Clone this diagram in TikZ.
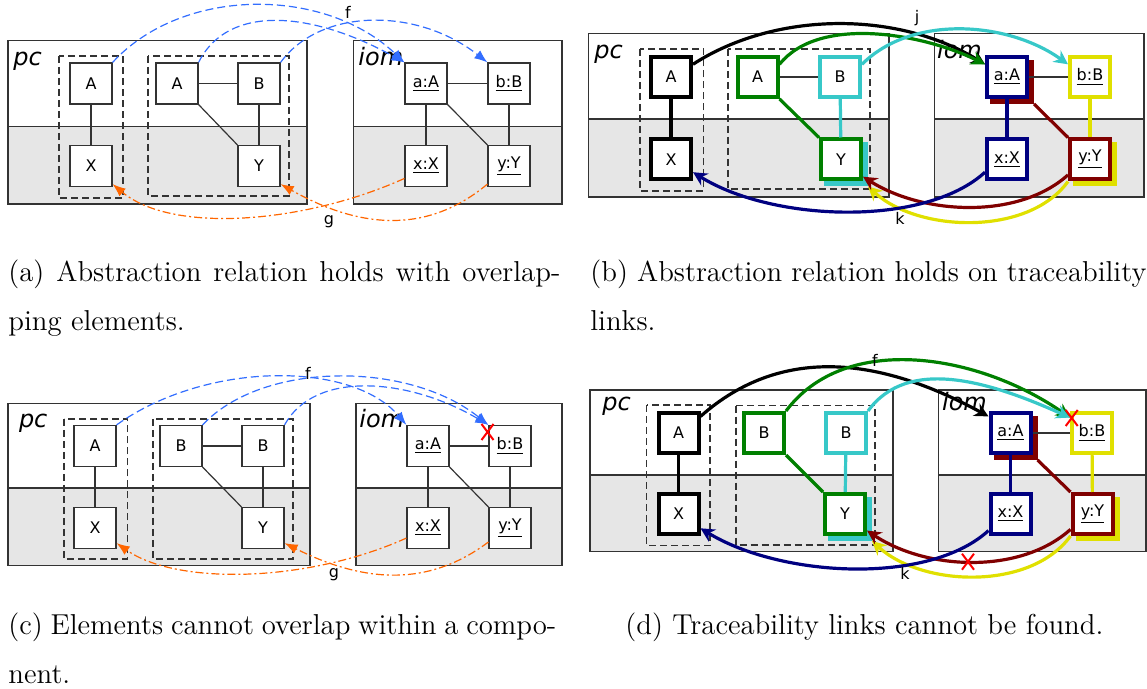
\documentclass[tikz,border=0pt]{standalone}
\usepackage{fontspec}
\newfontfamily\dejavu{DejaVu Sans}
\usepackage{tikz}
\usetikzlibrary{arrows.meta,shapes.misc}

\definecolor{fblue}{RGB}{51,110,255}
\definecolor{gorange}{RGB}{255,102,0}
\definecolor{tgreen}{RGB}{0,128,0}
\definecolor{tcyan}{RGB}{55,200,200}
\definecolor{tnavy}{RGB}{0,0,128}
\definecolor{tred}{RGB}{128,0,0}
\definecolor{tyellow}{RGB}{224,224,0}
\definecolor{layer}{RGB}{230,230,230}
\definecolor{frame}{RGB}{51,51,51}

\tikzset{
  elem/.style={draw=frame, fill=white, line width=0.6pt, minimum width=21pt, minimum height=20.5pt, inner sep=0pt, font=\dejavu\fontsize{8}{9}\selectfont},
  telem/.style={elem, draw=#1, line width=2pt, minimum width=20pt, minimum height=20pt},
  ghost/.style={draw=#1, fill=#1, line width=2pt, minimum width=20pt, minimum height=20pt, inner sep=0pt},
  group/.style={draw=frame, line width=0.6pt, dash pattern=on 3.5pt off 2pt},
  comp/.style={draw=frame, line width=0.6pt},
  compname/.style={font=\dejavu\itshape\fontsize{12}{14}\selectfont, inner sep=0pt, anchor=base west},
  assoc/.style={draw=frame, line width=0.6pt},
  link/.style={draw=#1, line width=1.6pt},
  fmap/.style={draw=fblue, line width=0.6pt, dash pattern=on 4pt off 2pt, -{Latex[length=6.5pt,width=5pt]}},
  gmap/.style={draw=gorange, line width=0.6pt, dash pattern=on 4pt off 1.5pt on 1pt off 1.5pt, -{Latex[length=6.5pt,width=5pt]}},
  trace/.style={draw=#1, line width=1.6pt, -{Stealth[length=7pt,width=7pt]}},
  maplabel/.style={font=\dejavu\fontsize{8}{9}\selectfont, inner sep=0pt},
  nomatch/.style={cross out, draw=red, line width=1pt, minimum width=5pt, minimum height=7pt, inner sep=0pt},
  subcap/.style={font=\fontsize{14.4}{17}\selectfont, inner sep=0pt, anchor=base west}
}

\newcommand{\compframe}[5]{%
  \fill[layer] (#1,#3) rectangle (#4,#5);
  \draw[comp] (#1,#2) rectangle (#4,#5);
  \draw[comp,line width=0.8pt] (#1,#3) -- (#4,#3);}

\begin{document}
\begin{tikzpicture}[x=0.5pt,y=-0.5pt]
\useasboundingbox (0,0) rectangle (1147,689);

% (a)
\compframe{8}{40.7}{126.7}{307}{204}
\compframe{353.6}{40.7}{126.7}{562}{204}
\draw (13,66) node[compname] (a-pc) {pc};
\draw (358,66) node[compname] (a-iom) {iom};
\draw[group] (59,56) rectangle (123,198);
\draw[group] (148,56) rectangle (289,196);
\draw (91,83.5) node[elem] (a-A1) {A};
\draw (91,166) node[elem] (a-X) {X};
\draw (177,83.5) node[elem] (a-A2) {A};
\draw (259,83.5) node[elem] (a-B) {B};
\draw (259,166) node[elem] (a-Y) {Y};
\draw (426,83.5) node[elem] (a-aA) {\underline{a:A}};
\draw (509,83.5) node[elem] (a-bB) {\underline{b:B}};
\draw (426,166) node[elem] (a-xX) {\underline{x:X}};
\draw (509,166) node[elem] (a-yY) {\underline{y:Y}};
\path[assoc] (a-A1) edge (a-X) (a-A2) edge (a-B) (a-B) edge (a-Y)
  (a-aA) edge (a-bB) (a-aA) edge (a-xX) (a-bB) edge (a-yY);
\draw[assoc] (a-A2.south east) -- (a-Y.north west);
\draw[assoc] (a-aA.south east) -- (a-yY.north west);
\draw[fmap] (a-A1.north east) .. controls +(70,-76) and +(-80,-76) .. (a-aA.north west);
\draw[fmap] (a-A2.north east) .. controls +(30,-60) and +(-90,-50) .. (a-aA.north west);
\draw[fmap] (a-B.north east) .. controls +(40,-55) and +(-70,-55) .. (a-bB.north west);
\draw[gmap] (a-xX.210) .. controls +(-100,45) and +(60,50) .. (a-X.-40);
\draw[gmap] (a-yY.220) .. controls +(-60,50) and +(80,45) .. (a-Y.-40);
\draw (348,12) node[maplabel] (a-f) {f};
\draw (329,222) node[maplabel] (a-g) {g};

% (b)
\compframe{588.5}{33.3}{119.3}{889}{197}
\compframe{934.5}{33.3}{119.3}{1144}{197}
\draw (594,58.3) node[compname] (b-pc) {pc};
\draw (936.7,58.3) node[compname] (b-iom) {iom};
\draw[group] (640,49) rectangle (703.5,191);
\draw[group] (728,49) rectangle (870,189);
\draw (846,164.5) node[ghost=tcyan] (b-Ys) {};
\draw (1012,82) node[ghost=tred] (b-aAs) {};
\draw (1095,164.5) node[ghost=tyellow] (b-yYs) {};
\draw (671,77) node[telem=black] (b-A1) {A};
\draw (671,159.5) node[telem=black] (b-X1) {X};
\draw (757.5,77) node[telem=tgreen] (b-A2) {A};
\draw (840,77) node[telem=tcyan] (b-B) {B};
\draw (841,159.5) node[telem=tgreen] (b-Y) {Y};
\draw (1007,77) node[telem=tnavy] (b-aA) {\underline{a:A}};
\draw (1090,77) node[telem=tyellow] (b-bB) {\underline{b:B}};
\draw (1007,159.5) node[telem=tnavy] (b-xX) {\underline{x:X}};
\draw (1090,159.5) node[telem=tred] (b-yY) {\underline{y:Y}};
\path[link=black] (b-A1) edge (b-X1);
\path[assoc] (b-A2) edge (b-B) (b-aA) edge (b-bB);
\draw[link=tgreen] (b-A2.south east) -- (b-Y.north west);
\path[link=tcyan] (b-B) edge (b-Y);
\path[link=tnavy] (b-aA) edge (b-xX);
\draw[link=tred] (b-aAs.south east) -- (b-yY.north west);
\path[link=tyellow] (b-bB) edge (b-yY);
\draw[trace=black] (b-A1.30) .. controls +(80,-52) and +(-90,-55) .. (b-aA.150);
\draw[trace=tgreen] (b-A2.30) .. controls +(40,-50) and +(-60,-30) .. (b-aA.150);
\draw[trace=tcyan] (b-B.30) .. controls +(50,-50) and +(-60,-43) .. (b-bB.150);
\draw[trace=tyellow] (b-yY.south west) .. controls +(-40,55) and +(50,46) .. (b-Ys.south east);
\draw[trace=tred] (b-yY.215) .. controls +(-50,45) and +(60,38) .. (b-Y.-38);
\draw[trace=tnavy] (b-xX.210) .. controls +(-60,55) and +(80,50) .. (b-X1.-30);
\draw (917,18) node[maplabel] (b-j) {j};
\draw (900,218) node[maplabel] (b-k) {k};

% (c)
\compframe{8}{403.3}{488.3}{310}{565.7}
\compframe{356}{403.3}{488.3}{562}{565.7}
\draw (18.6,428) node[compname] (c-pc) {pc};
\draw (359,428) node[compname] (c-iom) {iom};
\draw[group] (64,419) rectangle (127.5,559);
\draw[group] (153,419) rectangle (293,559);
\draw (95,446) node[elem] (c-A) {A};
\draw (95,528) node[elem] (c-X) {X};
\draw (181,446) node[elem] (c-B1) {B};
\draw (263,446) node[elem] (c-B2) {B};
\draw (263,528) node[elem] (c-Y) {Y};
\draw (428,446) node[elem] (c-aA) {\underline{a:A}};
\draw (510,446) node[elem] (c-bB) {\underline{b:B}};
\draw (428,528) node[elem] (c-xX) {\underline{x:X}};
\draw (510,528) node[elem] (c-yY) {\underline{y:Y}};
\path[assoc] (c-A) edge (c-X) (c-B1) edge (c-B2) (c-B2) edge (c-Y)
  (c-aA) edge (c-bB) (c-aA) edge (c-xX) (c-bB) edge (c-yY);
\draw[assoc] (c-B1.south east) -- (c-Y.north west);
\draw[assoc] (c-aA.south east) -- (c-yY.north west);
\draw[fmap] (c-A.north east) .. controls +(90,-64) and +(-55,-64) .. (c-aA.north west);
\draw[fmap] (c-B1.north east) .. controls +(60,-64) and +(-80,-64) .. (c-bB.north west);
\draw[fmap] (c-B2.north east) .. controls +(30,-55) and +(-80,-47) .. (c-bB.north west);
\draw[gmap] (c-xX.205) .. controls +(-100,45) and +(60,42) .. (c-X.-35);
\draw[gmap] (c-yY.213) .. controls +(-60,45) and +(80,40) .. (c-Y.-35);
\draw (487.5,432) node[nomatch] (c-no) {};
\draw (308,373) node[maplabel] (c-f) {f};
\draw (334,575) node[maplabel] (c-g) {g};

% (d)
\compframe{590}{390}{475}{893}{551.7}
\compframe{938.5}{390}{475}{1146}{551.7}
\draw (602,411) node[compname] (d-pc) {pc};
\draw (941.7,411) node[compname] (d-iom) {iom};
\draw[group] (646.7,405) rectangle (710,545.7);
\draw[group] (736,405.7) rectangle (875,545);
\draw (850,519) node[ghost=tcyan] (d-Ys) {};
\draw (1015.5,438) node[ghost=tred] (d-aAs) {};
\draw (1097.5,519) node[ghost=tyellow] (d-yYs) {};
\draw (678.5,433) node[telem=black] (d-A1) {A};
\draw (678.5,514) node[telem=black] (d-X1) {X};
\draw (764,433) node[telem=tgreen] (d-B1) {B};
\draw (846,433) node[telem=tcyan] (d-B2) {B};
\draw (845,514) node[telem=tgreen] (d-Y) {Y};
\draw (1010.5,433) node[telem=tnavy] (d-aA) {\underline{a:A}};
\draw (1092,433) node[telem=tyellow] (d-bB) {\underline{b:B}};
\draw (1010.5,514) node[telem=tnavy] (d-xX) {\underline{x:X}};
\draw (1092.5,514) node[telem=tred] (d-yY) {\underline{y:Y}};
\path[link=black] (d-A1) edge (d-X1);
\path[assoc] (d-aA) edge (d-bB);
\draw[link=tgreen] (d-B1.south east) -- (d-Y.north west);
\path[link=tcyan] (d-B2) edge (d-Y);
\path[link=tnavy] (d-aA) edge (d-xX);
\draw[link=tred] (d-aAs.south east) -- (d-yY.north west);
\path[link=tyellow] (d-bB) edge (d-yY);
\draw[trace=black] (d-A1.37) .. controls +(80,-71) and +(-110,-60) .. (d-aA.143);
\draw[trace=tgreen] (d-B1.north east) .. controls +(60,-80) and +(-90,-63) .. (d-bB.145);
\draw[trace=tcyan] (d-B2.north east) .. controls +(40,-55) and +(-80,-36) .. (d-bB.145);
\draw[trace=tyellow] (d-yY.south west) .. controls +(-40,55) and +(50,46) .. (d-Ys.south east);
\draw[trace=tred] (d-yY.215) .. controls +(-50,45) and +(60,40) .. (d-Y.-37);
\draw[trace=tnavy] (d-xX.217) .. controls +(-60,55) and +(80,49) .. (d-X1.-33);
\draw (1071.7,418) node[nomatch] (d-no1) {};
\draw (968,561.7) node[nomatch] (d-no2) {};
\draw (875,360) node[maplabel] (d-f) {f};
\draw (905,573) node[maplabel] (d-k) {k};

% captions
\draw (8,282) node[subcap] (cap-a1) {\makebox[276pt][s]{(a) Abstraction relation holds with overlap-}};
\draw (8,331) node[subcap] (cap-a2) {ping elements.};
\draw (590,282) node[subcap] (cap-b1) {\makebox[278pt][s]{(b) Abstraction relation holds on traceability}};
\draw (590,331) node[subcap] (cap-b2) {links.};
\draw (8,635) node[subcap] (cap-c1) {\makebox[274pt][s]{(c) Elements cannot overlap within a compo-}};
\draw (8,683) node[subcap] (cap-c2) {nent.};
\draw (625,635) node[subcap] (cap-d) {(d) Traceability links cannot be found.};
\end{tikzpicture}
\end{document}
